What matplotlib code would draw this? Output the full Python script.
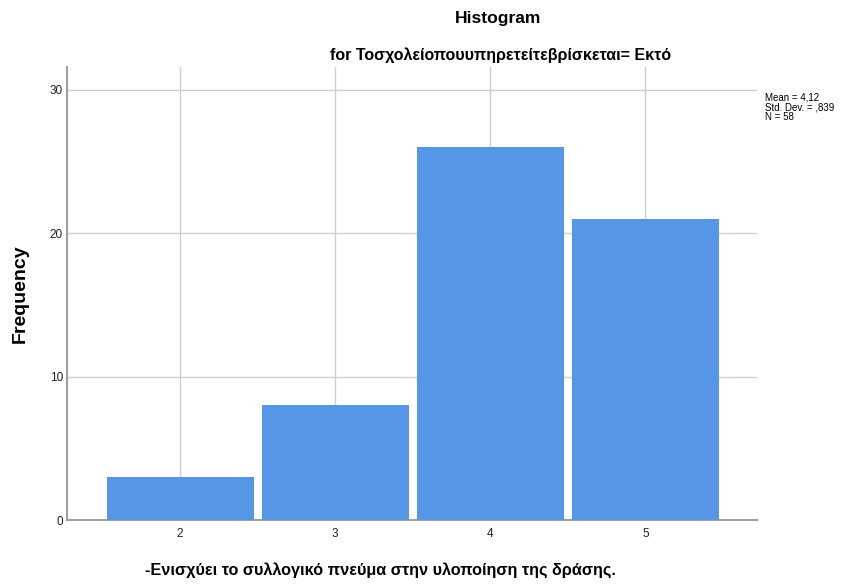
import matplotlib
matplotlib.use("Agg")
import matplotlib.pyplot as plt

plt.rcParams['font.family'] = ['Liberation Sans', 'DejaVu Sans']

values = [2, 3, 4, 5]
frequencies = [3, 8, 26, 21]
y_ticks = [0, 10, 20, 30]
title = "Histogram"
subtitle = "for Τοσχολείοπουυπηρετείτεβρίσκεται= Εκτό"
x_label = "-Ενισχύει το συλλογικό πνεύμα στην υλοποίηση της δράσης."
y_label = "Frequency"
stats_text = "Mean = 4,12\nStd. Dev. = ,839\nN = 58"

bar_color = "#5596e6"
grid_color = "#cfcfcf"
spine_color = "#a0a0a0"

fig = plt.figure(figsize=(8.62, 5.86), dpi=100)
ax = fig.add_axes([0.0777, 0.1126, 0.8005, 0.7731])

ax.bar(values, frequencies, width=0.95, color=bar_color, edgecolor='none', zorder=3)

ax.set_xlim(1.27, 5.72)
ax.set_ylim(0, 31.6)
ax.set_xticks(values)
ax.set_yticks(y_ticks)
ax.tick_params(length=0, labelsize=8.5, colors='#222222', pad=3)
ax.tick_params(axis='x', pad=6)
ax.grid(True, color=grid_color, linewidth=1, zorder=0)

for side in ('top', 'right'):
    ax.spines[side].set_visible(False)
for side in ('left', 'bottom'):
    ax.spines[side].set_color(spine_color)
    ax.spines[side].set_linewidth(1.5)

ax.set_ylabel(y_label, fontsize=14, fontweight='bold', labelpad=15)

# Captions positioned in figure coordinates
fig.text(0.441, 0.028, x_label, ha='center', va='center', fontsize=11.7, fontweight='bold')
fig.text(0.578, 0.968, title, ha='center', va='center', fontsize=12.6, fontweight='bold')
fig.text(0.581, 0.906, subtitle, ha='center', va='center', fontsize=11.5, fontweight='bold')
fig.text(0.888, 0.842, stats_text, ha='left', va='top', fontsize=7, linespacing=0.95)

fig.savefig("out.png", dpi=100)
